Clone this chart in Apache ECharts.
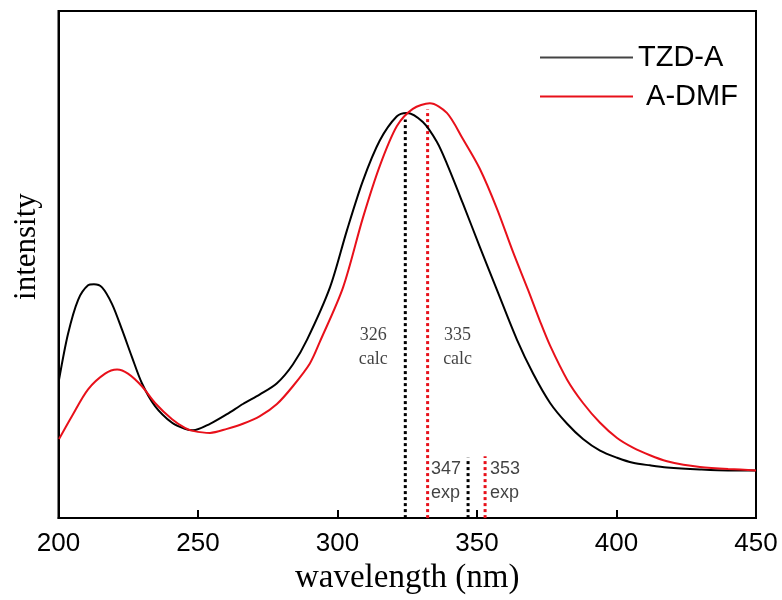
<!DOCTYPE html>
<html>
<head>
<meta charset="utf-8">
<script src="https://cdn.jsdelivr.net/npm/echarts@6/dist/echarts.min.js"></script>
<style>html,body{margin:0;padding:0;background:#fff;}#c{width:782px;height:600px;}</style>
</head>
<body>
<div id="c"></div>
<script>
// wavelength (nm) / relative intensity
const tzdWave = [200.2,203.4,207.0,210.6,212.7,215.6,219.2,222.8,226.3,229.9,234.6,240.7,245.3,248.2,254.3,260.4,266.1,272.2,278.3,284.0,289.1,297.3,303.3,309.1,315.2,321.2,324.8,330.6,335.6,339.2,344.9,351.0,357.5,364.3,370.1,376.2,382.3,388.0,394.1,400.2,405.9,412.0,418.1,429.9,440.0,450.0];
const tzdInt  = [27.3,36.3,43.0,45.9,46.1,45.5,42.2,37.1,31.8,26.6,22.1,18.8,17.6,17.3,18.6,20.5,22.5,24.4,26.6,30.3,35.2,45.5,56.6,66.5,74.5,79.2,79.9,78.1,74.2,69.9,62.1,53.5,44.5,35.2,28.5,22.7,18.6,15.6,13.3,11.9,10.9,10.4,10.0,9.6,9.4,9.4];
const dmfWave = [200.2,204.8,210.6,216.7,221.0,224.9,229.9,234.6,240.7,245.3,248.2,254.3,260.4,266.1,272.2,278.3,284.0,290.1,293.7,302.0,309.1,315.2,321.3,327.0,333.1,339.2,344.9,351.0,357.1,362.9,368.3,372.6,376.2,382.3,388.0,394.1,400.2,405.9,412.0,418.1,424.0,429.9,440.0,450.0];
const dmfInt  = [15.6,20.1,25.4,28.5,29.3,28.5,26.0,22.7,19.5,17.8,17.2,16.8,17.6,18.6,20.1,22.5,26.0,30.5,34.8,45.5,59.2,69.5,77.3,80.7,81.8,79.9,74.8,68.9,61.1,52.5,45.0,38.8,34.0,27.3,22.7,18.8,15.8,13.9,12.4,11.2,10.5,10.1,9.7,9.4];

const seriesNames = ['TZD-A', ' A-DMF'];
const xTicks = [200, 250, 300, 350, 400, 450];

// marker lines: position, top intensity, label text
const calcPos = [324.3, 332.3];
const calcTop = [78.6, 80.6];
const calcText = ['326', '335'];
const expPos = [346.8, 352.9];
const expTop = [11.9, 12.2];
const expText = ['347', '353'];
const calcLabelY = 33.6;
const expLabelY = 7.4;

const colors = ['#000000', '#e8101a'];

function zip(a, b) { return a.map((v, i) => [v, b[i]]); }

const series = [
  { name: seriesNames[0], type: 'line', data: zip(tzdWave, tzdInt), smooth: 0.3, showSymbol: false,
    lineStyle: { color: colors[0], width: 2 }, itemStyle: { color: colors[0] }, z: 3 },
  { name: seriesNames[1], type: 'line', data: zip(dmfWave, dmfInt), smooth: 0.3, showSymbol: false,
    lineStyle: { color: colors[1], width: 2 }, itemStyle: { color: colors[1] }, z: 3 }
];

const calcOffset = [[-32, 0], [30, 0]];
const expOffset = [[-37, 0], [5, 0]];

calcPos.forEach((p, i) => {
  series.push({ type: 'line', data: [[p, 0], [p, calcTop[i]]], showSymbol: false, silent: true,
    lineStyle: { color: colors[i], width: 3, type: [3, 3] }, z: 2 });
  series.push({ type: 'scatter', data: [[p, calcLabelY]], symbolSize: 0, silent: true,
    label: { show: true, formatter: calcText[i] + '\ncalc', position: 'inside', offset: calcOffset[i],
      fontFamily: 'Liberation Serif', fontSize: 18, lineHeight: 24, color: '#111', align: 'center' } });
});
expPos.forEach((p, i) => {
  series.push({ type: 'line', data: [[p, 0], [p, expTop[i]]], showSymbol: false, silent: true,
    lineStyle: { color: colors[i], width: 3, type: [3, 3] }, z: 2 });
  series.push({ type: 'scatter', data: [[p, expLabelY]], symbolSize: 0, silent: true,
    label: { show: true, formatter: expText[i] + '\nexp', position: 'inside', offset: expOffset[i],
      fontFamily: 'Liberation Sans', fontSize: 18, lineHeight: 24, color: '#111', align: 'left' } });
});

const chart = echarts.init(document.getElementById('c'), null, { renderer: 'canvas' });
chart.setOption({
  animation: false,
  backgroundColor: '#fff',
  grid: { left: 58.5, right: 26, top: 11, bottom: 77, show: true, borderColor: '#000', borderWidth: 2 },
  legend: {
    data: [{ name: seriesNames[0], itemStyle: { color: '#444' } }, { name: seriesNames[1], itemStyle: { color: colors[1] } }],
    orient: 'vertical', left: 535, top: 38, icon: 'rect', itemWidth: 93, itemHeight: 2, itemGap: 10,
    textStyle: { fontFamily: 'Liberation Sans', fontSize: 29, color: '#000', lineHeight: 28 }
  },
  xAxis: {
    type: 'value', min: xTicks[0], max: xTicks[xTicks.length - 1], interval: 50,
    name: 'wavelength (nm)', nameLocation: 'middle', nameGap: 37,
    nameTextStyle: { fontFamily: 'Liberation Serif', fontSize: 33, color: '#000' },
    axisLine: { lineStyle: { color: '#000', width: 2 } },
    axisTick: { inside: true, length: 8, lineStyle: { color: '#000', width: 2 } },
    axisLabel: { fontFamily: 'Liberation Sans', fontSize: 26, color: '#000', margin: 13 },
    splitLine: { show: false }
  },
  yAxis: {
    type: 'value', min: 0, max: 100,
    name: 'intensity', nameLocation: 'middle', nameGap: 16, nameRotate: 90,
    nameTextStyle: { fontFamily: 'Liberation Serif', fontSize: 31, color: '#000', padding: [0, 0, 0, 36] },
    axisLine: { show: true, lineStyle: { color: '#000', width: 2 } },
    axisTick: { show: false }, axisLabel: { show: false }, splitLine: { show: false }
  },
  series: series
});
</script>
</body>
</html>
